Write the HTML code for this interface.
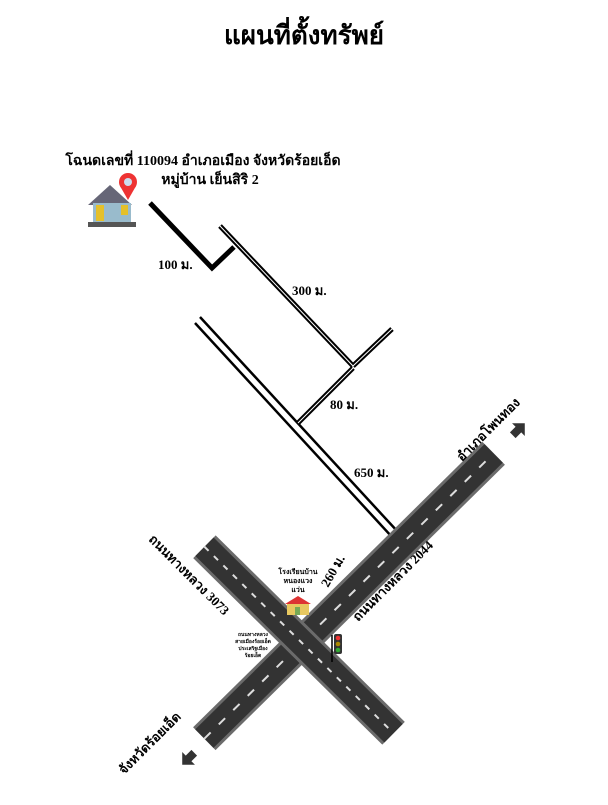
<!DOCTYPE html>
<html><head><meta charset="utf-8"><style>
body{margin:0;background:#fff;width:608px;height:800px;overflow:hidden;font-family:"Liberation Serif","Noto Serif CJK SC",serif}
</style></head><body>
<svg width="608" height="800" viewBox="0 0 608 800" xmlns="http://www.w3.org/2000/svg">
<defs>
<g id="road">
<rect x="-160" y="-16" width="320" height="32" fill="#6b6b6b"/>
<rect x="-160" y="-13" width="320" height="26" fill="#333"/>
<line x1="-160" y1="0" x2="160" y2="0" stroke="#ddd" stroke-width="2" stroke-dasharray="7 9"/>
</g>
</defs>
<text x="304" y="44" text-anchor="middle" font-size="26" font-weight="bold" font-family="'Liberation Serif','Noto Serif CJK SC',serif">แผนที่ตั้งทรัพย์</text>
<text x="203" y="165" text-anchor="middle" font-size="14" font-weight="bold">โฉนดเลขที่  110094 อำเภอเมือง จังหวัดร้อยเอ็ด</text>
<text x="210" y="184" text-anchor="middle" font-size="14" font-weight="bold">หมู่บ้าน เย็นสิริ 2</text>
<polygon points="88,205 110,185 132,205" fill="#667"/>
<rect x="93" y="203" width="38" height="20" fill="#9bc"/>
<rect x="96" y="205" width="8" height="16" fill="#e5c02a"/>
<rect x="121" y="205" width="7" height="10" fill="#e5c02a"/>
<rect x="88" y="222" width="48" height="5" fill="#555"/>
<circle cx="128" cy="182" r="9" fill="#e33"/>
<polygon points="120,186 136,186 128,200" fill="#e33"/>
<circle cx="128" cy="182" r="4" fill="#cde"/>
<g stroke="#000" fill="none" stroke-linecap="butt">
<polyline points="150,203 212,268 234,247" stroke-width="5"/>
<line x1="220" y1="226" x2="353" y2="366" stroke-width="5"/>
<line x1="353" y1="366" x2="392" y2="329" stroke-width="5"/>
<line x1="353" y1="368" x2="298" y2="423" stroke-width="5"/>
<line x1="200" y1="317" x2="398" y2="532" stroke-width="2.5"/>
<line x1="195" y1="323" x2="392" y2="537" stroke-width="2.5"/>
</g>
<g stroke="#fff" stroke-width="1"><line x1="353" y1="366" x2="392" y2="329"/><line x1="353" y1="368" x2="298" y2="423"/><line x1="220" y1="226" x2="353" y2="366"/></g>
<g font-size="13" font-weight="bold">
<text x="158" y="269">100 ม.</text>
<text x="292" y="295">300 ม.</text>
<text x="330" y="409">80 ม.</text>
<text x="354" y="477">650 ม.</text>
</g>
<g transform="translate(349,596) rotate(-44.6)"><use href="#road" transform="scale(1.27,1)"/></g>
<g transform="translate(299,640) rotate(44.6)"><use href="#road" transform="scale(0.83,1)"/></g>
<g transform="translate(517,431) rotate(-45)" fill="#333"><polygon points="-6,-4 2,-4 2,-9 11,0 2,9 2,4 -6,4"/></g>
<g transform="translate(190,757) rotate(135)" fill="#333"><polygon points="-6,-4 2,-4 2,-9 11,0 2,9 2,4 -6,4"/></g>
<g font-size="13" font-weight="bold">
<text transform="translate(462,462) rotate(-45)">อำเภอโพนทอง</text>
<text transform="translate(148,540) rotate(45)">ถนนทางหลวง 3073</text>
<text transform="translate(358,622) rotate(-45)">ถนนทางหลวง 2044</text>
<text transform="translate(124,775) rotate(-45)">จังหวัดร้อยเอ็ด</text>
<text transform="translate(328,588) rotate(-60)">260 ม.</text>
</g>
<g font-size="7" font-weight="bold" text-anchor="middle">
<text x="298" y="574">โรงเรียนบ้าน</text><text x="298" y="583">หนองแวง</text><text x="298" y="592">แว่น</text>
<text x="253" y="636" font-size="5">ถนนทางหลวง</text><text x="253" y="643" font-size="5">สายเมืองร้อยเอ็ด</text><text x="253" y="650" font-size="5">ประเสริฐเมือง</text><text x="253" y="657" font-size="5">ร้อยเอ็ด</text>
</g>
<rect x="287" y="603" width="22" height="12" fill="#e8c860"/>
<polygon points="285,604 298,596 311,604" fill="#d33"/>
<rect x="295" y="607" width="5" height="8" fill="#7a5"/>
<line x1="332" y1="635" x2="332" y2="662" stroke="#000" stroke-width="1.5"/>
<rect x="334" y="634" width="8" height="20" rx="2" fill="#333"/>
<circle cx="338" cy="638" r="2.3" fill="#e33"/><circle cx="338" cy="644" r="2.3" fill="#a80"/><circle cx="338" cy="650" r="2.3" fill="#3a3"/>
</svg>
</body></html>
